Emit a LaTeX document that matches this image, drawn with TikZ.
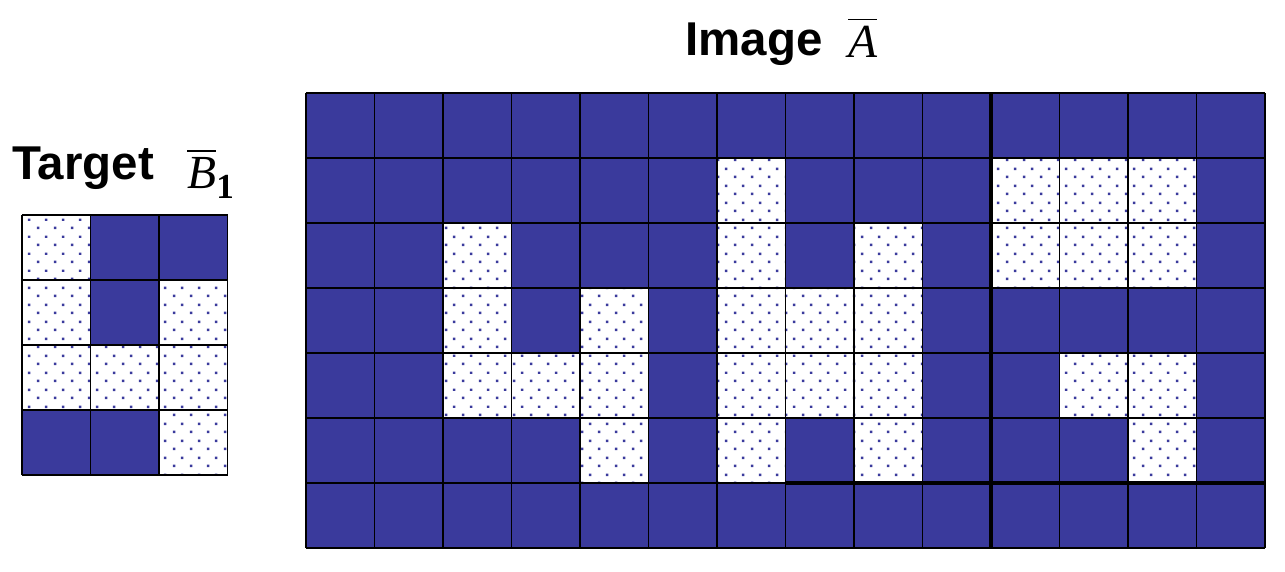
\documentclass[tikz,border=0pt]{standalone}
\usepackage{amsmath}
\usepackage{fontspec}
\setmainfont{Liberation Sans}
\newfontfamily\timesfont{Liberation Serif}
\usetikzlibrary{patterns}
\definecolor{cellblue}{RGB}{58,58,156}
\pgfdeclarepatternformonly{bluedots}{\pgfpointorigin}{\pgfpoint{0.34cm}{0.34cm}}{\pgfpoint{0.34cm}{0.34cm}}{%
  \pgfpathrectangle{\pgfpoint{0.06cm}{0.06cm}}{\pgfpoint{0.05cm}{0.05cm}}%
  \pgfpathrectangle{\pgfpoint{0.23cm}{0.23cm}}{\pgfpoint{0.05cm}{0.05cm}}%
  \pgfusepath{fill}}
\newcommand{\itl}[1]{\text{\timesfont\itshape #1}}
\newcommand{\lowone}{\raisebox{-6pt}{\fontsize{20}{24}\selectfont\timesfont\bfseries 1}}
\tikzset{
  full/.style={fill=cellblue},
  speckled/.style={fill=white, postaction={pattern=bluedots, pattern color=cellblue}},
  gridline/.style={draw=black, line width=0.95pt},
  thickline/.style={draw=black, line width=2.2pt},
  title/.style={font=\fontsize{27}{32}\selectfont\bfseries, anchor=base west, inner sep=0pt},
  symb/.style={font=\fontsize{27}{32}\selectfont, anchor=base west, inner sep=0pt}
}
\begin{document}
\begin{tikzpicture}
    \useasboundingbox (0,0) rectangle (25.7,11.42);
    \node[title] (target) at (0.24,7.84) {Target};
    \node[symb] (bsym) at (3.74,7.66) {$\overline{\itl{B}}\lowone$};
    \node[title] (image) at (13.7,10.32) {Image};
    \node[symb] (asym) at (16.96,10.28) {$\overline{\itl{A}}$};
    \begin{scope}[shift={(0.44,1.92)}, x=1.37cm, y=1.3cm]
      \fill[full] (0,0) rectangle (3,4);
      \foreach \c/\r in {1/1,1/2,3/2,1/3,2/3,3/3,3/4}
        \fill[speckled] (\c-1,4-\r) rectangle (\c,5-\r);
      \foreach \i in {0,...,3} \draw[gridline] (\i,0) -- (\i,4);
      \foreach \j in {0,...,4} \draw[gridline] (0,\j) -- (3,\j);
    \end{scope}
    \begin{scope}[shift={(6.12,0.46)}, x=1.37cm, y=1.3cm]
      \fill[full] (0,0) rectangle (14,7);
      \foreach \c/\r in {7/2,11/2,12/2,13/2,
                         3/3,7/3,9/3,11/3,12/3,13/3,
                         3/4,5/4,7/4,8/4,9/4,
                         3/5,4/5,5/5,7/5,8/5,9/5,12/5,13/5,
                         5/6,7/6,9/6,13/6}
        \fill[speckled] (\c-1,7-\r) rectangle (\c,8-\r);
      \foreach \i in {0,...,14} \draw[gridline] (\i,0) -- (\i,7);
      \foreach \j in {0,...,7} \draw[gridline] (0,\j) -- (14,\j);
      \draw[thickline] (10,0) -- (10,7);
      \draw[thickline] (7,1) -- (14,1);
    \end{scope}
\end{tikzpicture}
\end{document}
